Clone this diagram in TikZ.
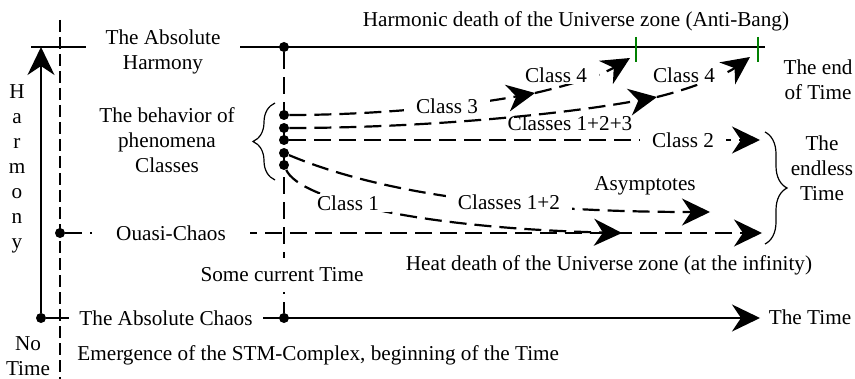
\documentclass[tikz,border=0pt]{standalone}
\usepackage{fontspec}
\setmainfont{Liberation Serif}
\usepackage{xcolor}
\usetikzlibrary{arrows.meta,decorations.pathreplacing}
\definecolor{tickgreen}{HTML}{008000}

\begin{document}
\begin{tikzpicture}[
  x=0.5pt, y=-0.5pt,
  font=\fontsize{10.6}{12.5}\selectfont,
  >={Stealth[length=14pt,width=13.5pt,inset=4.5pt]},
  axis/.style={line width=1pt},
  dsh/.style={line width=1.1pt, dash pattern=on 8.5pt off 4pt},
  guide/.style={line width=0.6pt, dash pattern=on 6pt off 2.5pt},
  dot/.style={circle, fill, inner sep=0pt, minimum size=5pt},
  lbl/.style={fill=white, align=center, inner xsep=6pt, inner ysep=1pt},
  txt/.style={align=center, inner sep=0pt},
  brc/.style={decorate, decoration={brace, amplitude=11pt}, line width=0.6pt},
  zone/.style={draw=tickgreen, line width=0.7pt}
]
\useasboundingbox (0,0) rectangle (855,379);

% ---- frame lines --------------------------------------------------------
\coordinate (gTop) at (60,20);
\coordinate (gBot) at (60,379);
\coordinate (hL)   at (31,47);
\coordinate (hR)   at (765,47);
\coordinate (hA)   at (41,47);
\coordinate (tEnd) at (760,318);

\node[dot] (o)   at (41,318)  {};
\node[dot] (now) at (284,318) {};
\node[dot] (top) at (284,47)  {};
\node[dot] (qc)  at (60,233)  {};

\draw[guide] (gTop) -- (gBot);
\draw[axis] (hL) -- (hR);
\draw[axis,->] (o) -- (hA);
\draw[axis,->] (o) -- (tEnd);
\draw[dsh] (top) -- (now);

% ---- class dots and curves ----------------------------------------------
\node[dot] (b1) at (284,115) {};
\node[dot] (b2) at (284,128) {};
\node[dot] (b3) at (284,140) {};
\node[dot] (b4) at (284,153) {};
\node[dot] (b5) at (284,165) {};

\coordinate (c3m)   at (535,93);
\coordinate (c3e)   at (630,58);
\coordinate (c123m) at (657,97);
\coordinate (c123e) at (750,57);
\coordinate (c2e)   at (760,140);
\coordinate (c12e)  at (710,212);
\coordinate (c1e)   at (622,233);
\coordinate (qe)    at (762,233);

\draw[dsh,->] (b1) .. controls (380,115) and (470,105) .. (c3m);
\draw[dsh,->] (c3m) .. controls (562,87) and (600,76) .. (c3e);
\draw[dsh,->] (b2) .. controls (420,128) and (560,115) .. (c123m);
\draw[dsh,->] (c123m) .. controls (690,89) and (725,75) .. (c123e);
\draw[dsh,->] (b3) -- (c2e);
\draw[dsh,->] (b4) .. controls (360,185) and (480,212) .. (c12e);
\draw[dsh,->] (b5) .. controls (300,200) and (420,228) .. (c1e);
\draw[dsh,->] (qc) -- (qe);

% ---- zone ticks and braces ----------------------------------------------
\coordinate (z1t) at (636,37);
\coordinate (z1b) at (636,62);
\coordinate (z2t) at (758,37);
\coordinate (z2b) at (758,62);
\draw[zone] (z1t) -- (z1b);
\draw[zone] (z2t) -- (z2b);

\coordinate (lbB) at (275,180);
\coordinate (lbT) at (275,103);
\coordinate (rbT) at (765,132);
\coordinate (rbB) at (765,244);
\draw[brc] (lbB) -- (lbT);
\draw[brc] (rbT) -- (rbB);

% ---- labels on lines ----------------------------------------------------
\node[lbl, inner xsep=10pt] (harm) at (163,52) {The Absolute\\Harmony};
\node[lbl, inner xsep=5pt]  (chaos) at (166,318) {The Absolute Chaos};
\node[lbl, inner xsep=12pt] (quasi) at (171,233) {Ouasi-Chaos};
\node[lbl, inner ysep=5pt]  (cur) at (282,275) {Some current Time};
\node[lbl] (l3)   at (447,106) {Class 3};
\node[lbl] (l4a)  at (556,75)  {Class 4};
\node[lbl] (l4b)  at (684,75)  {Class 4};
\node[lbl] (l2)   at (683,140) {Class 2};
\node[lbl] (l12)  at (509,202) {Classes 1+2};
\node[lbl] (l1)   at (348,203) {Class 1};

% ---- free texts ---------------------------------------------------------
\node[txt] (l123)    at (570,123) {Classes 1+2+3};
\node[txt] (anti)    at (576,21)  {Harmonic death of the Universe zone (Anti-Bang)};
\node[txt] (beh)     at (167,140) {The behavior of\\phenomena\\Classes};
\node[txt] (hword)   at (17,169)  {H\\a\\r\\m\\o\\n\\y};
\node[txt] (notime)  at (28,356)  {No\\Time};
\node[txt, anchor=west] (emerg) at (77,355) {Emergence of the STM-Complex, beginning of the Time};
\node[txt] (heat)    at (609,265) {Heat death of the Universe zone (at the infinity)};
\node[txt] (asym)    at (645,186) {Asymptotes};
\node[txt] (endless) at (822,168) {The\\endless\\Time};
\node[txt] (endt)    at (818,80)  {The end\\of Time};
\node[txt] (ttime)   at (810,317) {The Time};

\end{tikzpicture}
\end{document}
